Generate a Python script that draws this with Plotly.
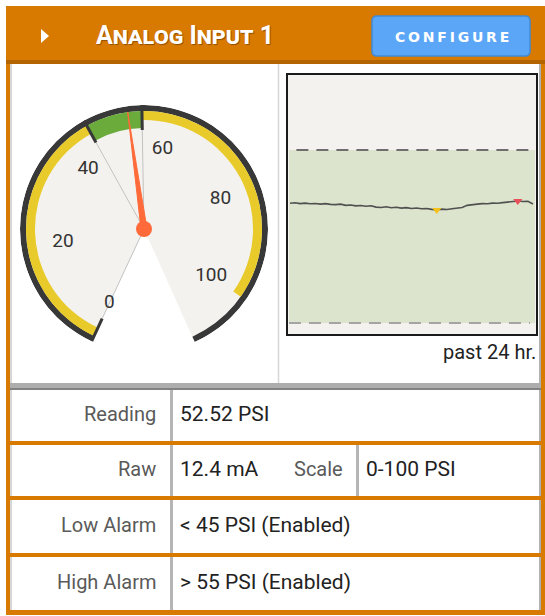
import plotly.graph_objects as go

W, H = 545, 616

# ---------------- data ----------------
title_text = "Analog Input 1"
button_text = "CONFIGURE"
reading_psi = 52.52
raw_ma = 12.4
scale_min, scale_max = 0, 100
low_alarm, high_alarm = 45, 55
gauge_ticks = [0, 20, 40, 60, 80, 100]
gauge_arc_end = 111          # dial arc continues past full scale
trend_hours = [0, 0.5, 1, 1.5, 2, 2.5, 3, 3.5, 4, 4.5, 5, 5.5, 6, 6.5, 7, 7.5,
               8, 8.5, 9, 9.5, 10, 10.5, 11, 11.5, 12, 12.5, 13, 13.5, 14, 14.5,
               15, 15.5, 16, 16.5, 17, 17.5, 18, 18.5, 19, 19.5, 20, 20.5, 21,
               21.5, 22, 22.5, 23, 23.5, 24]
trend_psi = [51.92, 51.95, 51.90, 51.93, 51.89, 51.91, 51.87, 51.90, 51.86, 51.84,
             51.87, 51.80, 51.82, 51.77, 51.79, 51.75, 51.78, 51.70, 51.68, 51.72,
             51.66, 51.69, 51.64, 51.67, 51.62, 51.65, 51.60, 51.62, 51.57, 51.53,
             51.58, 51.56, 51.60, 51.63, 51.68, 51.80, 51.85, 51.87, 51.90, 51.89,
             51.93, 51.92, 51.96, 51.98, 52.00, 52.05, 52.02, 52.03, 51.88]
trend_caption = "past 24 hr."
row_labels = ["Reading", "Raw", "Low Alarm", "High Alarm"]
scale_label = "Scale"

# ---------------- colours ----------------
ORANGE = "#d97a00"
ORANGE_DK = "#b36300"
BEIGE = "#f4f2ee"
DARK = "#383838"
YELLOW = "#e8cb2b"
GREEN = "#6aab3c"
NEEDLE = "#ff6a3a"
FONT = "Roboto"


def px(x):
    return x / W


def py(y):
    return 1 - y / H


def rect(x0, y0, x1, y1, fill, lw=0, lc=None, layer="below"):
    return dict(type="rect", xref="paper", yref="paper",
                x0=px(x0), x1=px(x1), y0=py(y1), y1=py(y0),
                fillcolor=fill, line=dict(width=lw, color=lc or fill), layer=layer)


def line(x0, y0, x1, y1, color, width, layer="below", dash="solid"):
    return dict(type="line", xref="paper", yref="paper",
                x0=px(x0), x1=px(x1), y0=py(y0), y1=py(y1),
                line=dict(color=color, width=width, dash=dash), layer=layer)


def rrect_path(x0, y0, x1, y1, r):
    pts = [
        ("M", [(x0 + r, y0)]), ("L", [(x1 - r, y0)]), ("Q", [(x1, y0), (x1, y0 + r)]),
        ("L", [(x1, y1 - r)]), ("Q", [(x1, y1), (x1 - r, y1)]),
        ("L", [(x0 + r, y1)]), ("Q", [(x0, y1), (x0, y1 - r)]),
        ("L", [(x0, y0 + r)]), ("Q", [(x0, y0), (x0 + r, y0)]),
    ]
    s = ""
    for cmd, ps in pts:
        s += cmd + " " + " ".join(f"{px(a):.5f},{py(b):.5f}" for a, b in ps) + " "
    return s + "Z"


shapes = []
# card background (orange frame)
shapes.append(rect(6, 6, 545, 615, ORANGE))
shapes.append(rect(6, 60, 545, 64, ORANGE_DK))
# top panel
shapes.append(rect(10, 64, 541, 383, "white"))
shapes.append(rect(10, 383, 541, 388, "#adadad"))
shapes.append(rect(10, 388, 541, 390, "#828282"))
shapes.append(line(278.5, 64, 278.5, 383, "#d6d6d6", 1.5))
# table rows
row_bounds = [(390, 441), (445, 496), (500, 553), (557, 610)]
for (t, b) in row_bounds:
    shapes.append(rect(10, t, 541, b, "white"))
    shapes.append(line(171.5, t, 171.5, b, "#b5b5b5", 3))
    shapes.append(line(11, t, 11, b, "#c8c8c8", 1.5))
    shapes.append(line(540, t, 540, b, "#b0b0b0", 2))
shapes.append(line(357.5, row_bounds[1][0], 357.5, row_bounds[1][1], "#b5b5b5", 3))
shapes.append(line(11, 64, 11, 383, "#c8c8c8", 1.5))
shapes.append(line(540, 64, 540, 383, "#b0b0b0", 2))
# header triangle and button
shapes.append(dict(type="path", xref="paper", yref="paper",
                   path=f"M {px(41)},{py(29)} L {px(41)},{py(43)} L {px(49)},{py(36)} Z",
                   fillcolor="white", line=dict(width=0), layer="above"))
shapes.append(dict(type="path", xref="paper", yref="paper",
                   path=rrect_path(372, 16, 530, 56, 5),
                   fillcolor="#5ba6f7", line=dict(width=1.5, color="#3f8bd6"), layer="below"))
# sparkline frame
shapes.append(rect(287, 74, 537, 335, BEIGE, lw=2, lc="#1a1a1a"))
# alarm band + dashed limits (data-referenced)
shapes.append(dict(type="rect", xref="x domain", yref="y", x0=0, x1=1,
                   y0=low_alarm, y1=high_alarm, fillcolor="#dce4cd",
                   line=dict(width=0), layer="below"))
shapes.append(dict(type="line", xref="x domain", yref="y", x0=0.03, x1=1,
                   y0=high_alarm, y1=high_alarm,
                   line=dict(color="#6e6e6e", width=2, dash="12px,8px"), layer="below"))
shapes.append(dict(type="line", xref="x domain", yref="y", x0=0, x1=0.98,
                   y0=low_alarm, y1=low_alarm,
                   line=dict(color="#a5a5a5", width=2, dash="12px,8px"), layer="below"))

fig = go.Figure()

# ---------------- gauge (polar) ----------------
ANG0 = -155.0
DEG = 2.8


def ang(v):
    return ANG0 + DEG * (v - scale_min)


def band(v0, v1, base, thick, color):
    return go.Barpolar(theta=[ang((v0 + v1) / 2)], width=[(v1 - v0) * DEG],
                       r=[thick], base=[base], marker_color=color,
                       marker_line_width=0, subplot="polar",
                       hoverinfo="skip", showlegend=False)


fig.add_trace(band(scale_min, gauge_arc_end, 0, 118, BEIGE))
fig.add_trace(band(scale_min, gauge_arc_end, 118, 6, DARK))
fig.add_trace(band(scale_min, low_alarm, 109, 9, YELLOW))
fig.add_trace(band(high_alarm, scale_max, 109, 9, YELLOW))
fig.add_trace(band(low_alarm, high_alarm, 101, 17, GREEN))

for v, rr in [(scale_min, 110), (low_alarm, 101), (high_alarm, 101)]:
    fig.add_trace(go.Scatterpolar(r=[0, rr], theta=[ang(v), ang(v)], mode="lines",
                                  line=dict(color="#c2c2c2", width=1),
                                  subplot="polar", hoverinfo="skip", showlegend=False))
for v in [scale_min, low_alarm, high_alarm]:
    fig.add_trace(go.Scatterpolar(r=[99, 124], theta=[ang(v), ang(v)], mode="lines",
                                  line=dict(color=DARK, width=3),
                                  subplot="polar", hoverinfo="skip", showlegend=False))

fig.add_trace(go.Scatterpolar(r=[82] * len(gauge_ticks), theta=[ang(v) for v in gauge_ticks],
                              mode="text", text=[str(v) for v in gauge_ticks],
                              textfont=dict(family=FONT, size=19, color="#333"),
                              subplot="polar", hoverinfo="skip", showlegend=False))

a = ang(reading_psi)
fig.add_trace(go.Scatterpolar(r=[3, 118, 3, 3], theta=[a - 90, a, a + 90, a - 90],
                              mode="lines", fill="toself", fillcolor=NEEDLE,
                              line=dict(color=NEEDLE, width=1),
                              subplot="polar", hoverinfo="skip", showlegend=False))
fig.add_trace(go.Scatterpolar(r=[0], theta=[0], mode="markers",
                              marker=dict(size=16, color=NEEDLE),
                              subplot="polar", hoverinfo="skip", showlegend=False))

# ---------------- sparkline ----------------
fig.add_trace(go.Scatter(x=trend_hours, y=trend_psi, mode="lines",
                         line=dict(color="#505050", width=1.6),
                         xaxis="x", yaxis="y", hoverinfo="skip", showlegend=False))
i_min = trend_psi.index(min(trend_psi))
i_max = trend_psi.index(max(trend_psi))
fig.add_trace(go.Scatter(x=[trend_hours[i_min]], y=[trend_psi[i_min]], mode="markers",
                         marker=dict(symbol="triangle-down", size=8, color="#f5c21b"),
                         xaxis="x", yaxis="y", hoverinfo="skip", showlegend=False))
fig.add_trace(go.Scatter(x=[trend_hours[i_max]], y=[trend_psi[i_max]], mode="markers",
                         marker=dict(symbol="triangle-down", size=8, color="#e8505a"),
                         xaxis="x", yaxis="y", hoverinfo="skip", showlegend=False))

# ---------------- annotations ----------------
ann = []
ann.append(dict(x=px(94), y=py(36), xref="paper", yref="paper", xanchor="left",
                yanchor="middle", showarrow=False, text=title_text,
                font=dict(family=FONT, size=25, color="white", weight="bold",
                          variant="small-caps", shadow="1px 1px 1px rgba(0,0,0,0.35)")))
ann.append(dict(x=px(452), y=py(37), xref="paper", yref="paper", xanchor="center",
                yanchor="middle", showarrow=False, text="\u2009".join(button_text),
                font=dict(family="DejaVu Sans", size=14, color="white", weight="bold")))
ann.append(dict(x=px(538), y=py(352), xref="paper", yref="paper", xanchor="right",
                yanchor="middle", showarrow=False, text=trend_caption,
                font=dict(family=FONT, size=20, color="#222")))

row_values = [f"{reading_psi:.2f} PSI", f"{raw_ma:.1f} mA",
              f"&lt; {low_alarm} PSI (Enabled)", f"&gt; {high_alarm} PSI (Enabled)"]
for (t, b), lab, val in zip(row_bounds, row_labels, row_values):
    yc = (t + b) / 2 - 2
    ann.append(dict(x=px(158), y=py(yc), xref="paper", yref="paper", xanchor="right",
                    yanchor="middle", showarrow=False, text=lab,
                    font=dict(family=FONT, size=20, color="#5a5a5a")))
    ann.append(dict(x=px(178), y=py(yc), xref="paper", yref="paper", xanchor="left",
                    yanchor="middle", showarrow=False, text=val,
                    font=dict(family=FONT, size=21, color="#222")))
yc = (row_bounds[1][0] + row_bounds[1][1]) / 2 - 2
ann.append(dict(x=px(345), y=py(yc), xref="paper", yref="paper", xanchor="right",
                yanchor="middle", showarrow=False, text=scale_label,
                font=dict(family=FONT, size=20, color="#5a5a5a")))
ann.append(dict(x=px(364), y=py(yc), xref="paper", yref="paper", xanchor="left",
                yanchor="middle", showarrow=False, text=f"{scale_min}-{scale_max} PSI",
                font=dict(family=FONT, size=21, color="#222")))

gx, gy, R = 144, 229, 124
fig.update_layout(
    width=W, height=H, margin=dict(l=0, r=0, t=0, b=0),
    paper_bgcolor="white", plot_bgcolor="rgba(0,0,0,0)",
    showlegend=False, shapes=shapes, annotations=ann,
    polar=dict(domain=dict(x=[px(gx - R), px(gx + R)], y=[py(gy + R), py(gy - R)]),
               bgcolor="rgba(0,0,0,0)", bargap=0, hole=0,
               angularaxis=dict(visible=False, rotation=90, direction="clockwise"),
               radialaxis=dict(visible=False, range=[0, R])),
    xaxis=dict(domain=[px(289), px(535)], range=[-0.1, 24.2], visible=False, fixedrange=True),
    yaxis=dict(domain=[py(333), py(76)], range=[44.42, 59.28], visible=False, fixedrange=True),
)

fig.write_html("out.html", config={"displayModeBar": False},
               post_script="document.body.style.margin='0';")
